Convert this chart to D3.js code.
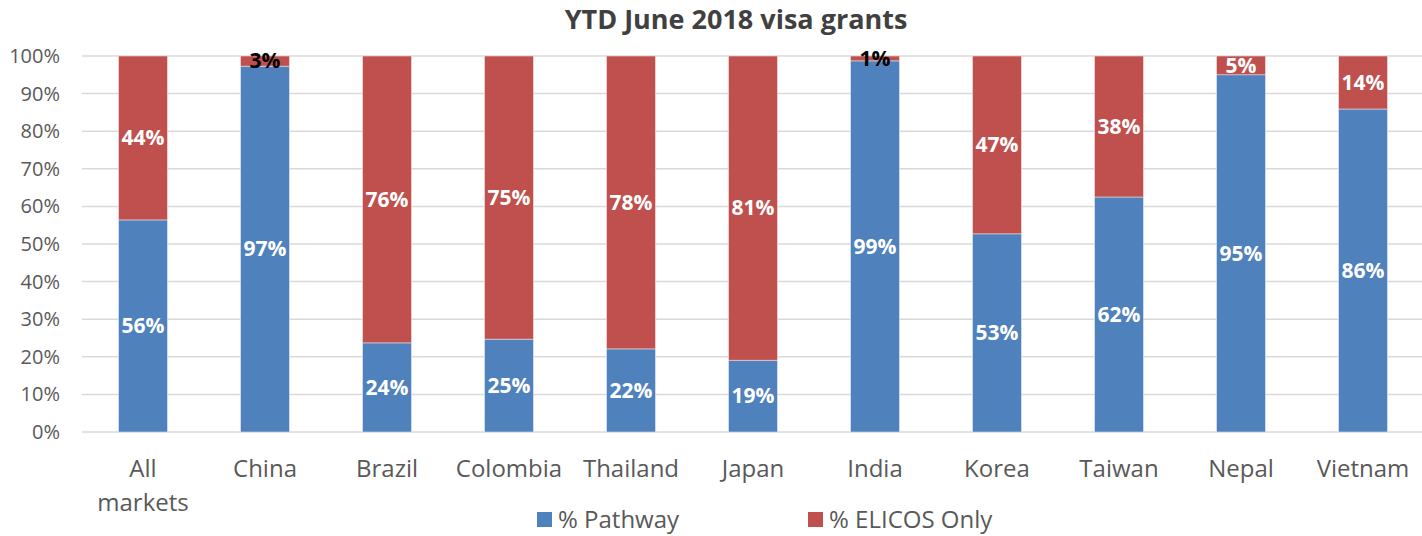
<!DOCTYPE html>
<html>
<head>
<meta charset="utf-8">
<script src="https://cdn.jsdelivr.net/npm/d3@7"></script>
<style>
  body { margin: 0; background: #fff; }
  text { font-family: "Open Sans", "Noto Sans", sans-serif; }
</style>
</head>
<body>
<div class="chart"></div>
<script>
// YTD visa grants, stacked 100%
const categories = ['All markets', 'China', 'Brazil', 'Colombia', 'Thailand', 'Japan', 'India', 'Korea', 'Taiwan', 'Nepal', 'Vietnam'];
const pathway = [56.4, 97.3, 23.7, 24.7, 22.1, 19.1, 98.7, 52.7, 62.5, 95.0, 85.9];
const elicos = [43.6, 2.7, 76.3, 75.3, 77.9, 80.9, 1.3, 47.3, 37.5, 5.0, 14.1];
const pathwayLabels = ['56%', '97%', '24%', '25%', '22%', '19%', '99%', '53%', '62%', '95%', '86%'];
const elicosLabels = ['44%', '3%', '76%', '75%', '78%', '81%', '1%', '47%', '38%', '5%', '14%'];
const yTicks = [0, 10, 20, 30, 40, 50, 60, 70, 80, 90, 100];
const seriesNames = ['% Pathway', '% ELICOS Only'];
const colors = ['#4f81bd', '#c0504d'];

const W = 1422, H = 536;
const margin = { top: 56, right: 0, bottom: 104, left: 82 };
const width = W - margin.left - margin.right;
const height = H - margin.top - margin.bottom;

const svg = d3.select('.chart')
  .append('svg')
    .attr('width', W)
    .attr('height', H);

svg.append('text')
  .attr('x', 736)
  .attr('y', 29)
  .attr('text-anchor', 'middle')
  .style('font-size', '27px')
  .style('font-weight', 'bold')
  .style('fill', '#404040')
  .text('YTD June 2018 visa grants');

const g = svg.append('g')
  .attr('transform', `translate(${margin.left}, ${margin.top})`);

const xScale = d3.scaleBand()
  .domain(categories)
  .range([0, 11 * 122])
  .paddingInner(0.6)
  .paddingOuter(0.3);

const yScale = d3.scaleLinear()
  .domain([0, 100])
  .range([height, 0]);

// gridlines
g.selectAll('.grid')
  .data(yTicks)
  .enter()
  .append('line')
    .attr('x1', 0)
    .attr('x2', width)
    .attr('y1', d => yScale(d))
    .attr('y2', d => yScale(d))
    .style('stroke', '#d9d9d9')
    .style('stroke-width', 1.5);

// y axis labels
g.append('g')
  .call(d3.axisLeft(yScale).tickValues(yTicks).tickFormat(d => d + '%').tickSize(0).tickPadding(22))
  .call(a => a.select('.domain').remove())
  .selectAll('text')
    .style('font-size', '20px')
    .style('fill', '#595959')
    .style('font-family', '"Open Sans", sans-serif');

// stacked data
const rows = categories.map((c, i) => ({ cat: c, p: pathway[i], e: elicos[i], pl: pathwayLabels[i], el: elicosLabels[i] }));

const barW = xScale.bandwidth();

// pathway bars
g.selectAll('.bar-p')
  .data(rows)
  .enter()
  .append('rect')
    .attr('x', d => xScale(d.cat))
    .attr('width', barW)
    .attr('y', d => yScale(d.p))
    .attr('height', d => yScale(0) - yScale(d.p))
    .style('fill', colors[0])
    .style('stroke', '#dbe4f0')
    .style('stroke-width', 0.6);

// elicos bars
g.selectAll('.bar-e')
  .data(rows)
  .enter()
  .append('rect')
    .attr('x', d => xScale(d.cat))
    .attr('width', barW)
    .attr('y', d => yScale(d.p + d.e))
    .attr('height', d => yScale(d.p) - yScale(d.p + d.e))
    .style('fill', colors[1])
    .style('stroke', '#f0dcdc')
    .style('stroke-width', 0.6);

// labels
g.selectAll('.lab-p')
  .data(rows)
  .enter()
  .append('text')
    .attr('x', d => xScale(d.cat) + barW / 2)
    .attr('y', d => yScale(d.p / 2))
    .attr('dy', '0.35em')
    .attr('text-anchor', 'middle')
    .style('font-size', '21px')
    .style('font-weight', 'bold')
    .style('fill', '#fff')
    .text(d => d.pl);

g.selectAll('.lab-e')
  .data(rows)
  .enter()
  .append('text')
    .attr('x', d => xScale(d.cat) + barW / 2)
    .attr('y', d => yScale(d.p + d.e / 2))
    .attr('dy', '0.35em')
    .attr('text-anchor', 'middle')
    .style('font-size', '21px')
    .style('font-weight', 'bold')
    .style('fill', d => d.e < 4 ? '#000' : '#fff')
    .text(d => d.el);

// x category labels
const xl = g.selectAll('.xlab')
  .data(categories)
  .enter()
  .append('text')
    .attr('x', d => xScale(d) + barW / 2)
    .attr('y', height + 45)
    .attr('text-anchor', 'middle')
    .style('font-size', '24px')
    .style('fill', '#595959');

xl.each(function(d) {
  const words = d === 'All markets' ? ['All', 'markets'] : [d];
  const t = d3.select(this);
  words.forEach((w, i) => {
    t.append('tspan')
      .attr('x', xScale(d) + barW / 2)
      .attr('dy', i === 0 ? 0 : 34)
      .text(w);
  });
});

// legend
const legendX = [537, 808];
const legend = svg.selectAll('.legend')
  .data(seriesNames)
  .enter()
  .append('g')
    .attr('transform', (d, i) => `translate(${legendX[i]}, 512)`);

legend.append('rect')
  .attr('width', 15)
  .attr('height', 15)
  .style('fill', (d, i) => colors[i]);

legend.append('text')
  .attr('x', 21)
  .attr('y', 16)
  .style('font-size', '24px')
  .style('fill', '#595959')
  .text(d => d);
</script>
</body>
</html>
